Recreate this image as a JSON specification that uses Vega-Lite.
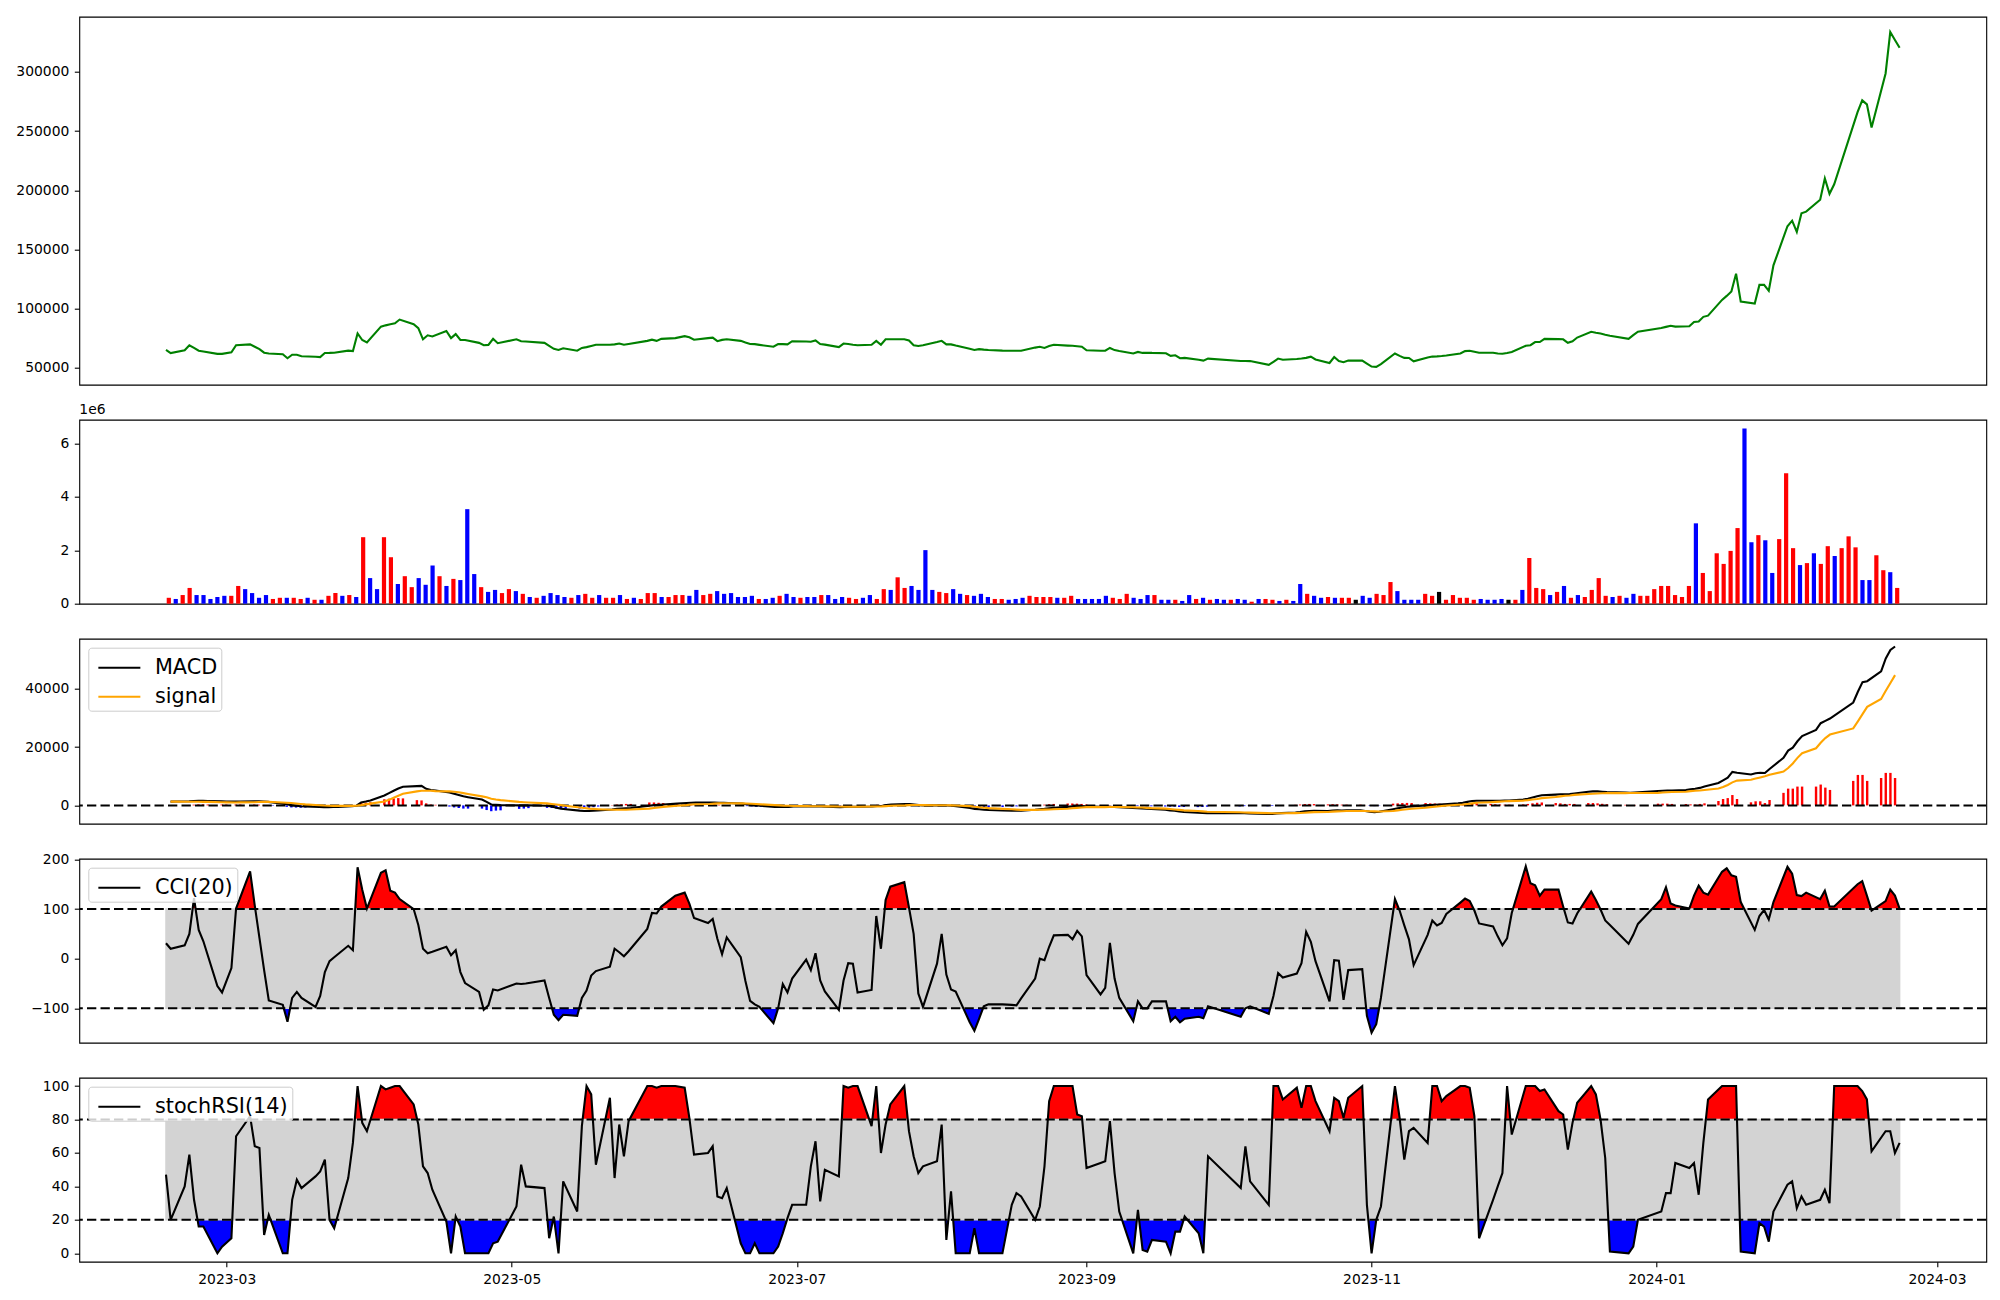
{
"$schema":"https://vega.github.io/schema/vega-lite/v6.json",
"padding":{"left":8.3,"top":15.7,"right":10,"bottom":10},
"config":{"font":"DejaVu Sans","view":{"stroke":"black","strokeWidth":1.1},
"axis":{"domain":false,"grid":false,"tickColor":"black","tickSize":5,"tickWidth":1.1,"labelFontSize":13.9,"labelColor":"black","labelPadding":5.5,"labelFont":"DejaVu Sans"},
"axisY":{"minExtent":70,"maxExtent":70},
"legend":{"orient":"top-left","offset":9,"labelFontSize":20.8,"labelFont":"DejaVu Sans","labelColor":"black","symbolSize":900,"symbolStrokeWidth":2.1,"fillColor":"rgba(255,255,255,0.8)","strokeColor":"#cccccc","padding":3.6,"cornerRadius":3,"rowPadding":2,"labelOffset":30}},
"datasets":{"p":[
{"d":"2023-02-16","c":65000,"v":221000,"dir":"up","m":1300,"s":1300,"h":0,"cci":31,"k":47},
{"d":"2023-02-17","c":62400,"v":177000,"dir":"down","m":1350,"s":1300,"h":50,"cci":20,"k":20},
{"d":"2023-02-20","c":64700,"v":324000,"dir":"up","m":1400,"s":1250,"h":150,"cci":27,"k":40},
{"d":"2023-02-21","c":69000,"v":590000,"dir":"up","m":1500,"s":1250,"h":250,"cci":50,"k":59},
{"d":"2023-02-22","c":66700,"v":324000,"dir":"down","m":1600,"s":1250,"h":350,"cci":122,"k":32},
{"d":"2023-02-23","c":64400,"v":324000,"dir":"down","m":1550,"s":1200,"h":350,"cci":58,"k":16},
{"d":"2023-02-24","c":63700,"v":177000,"dir":"down","m":1500,"s":1200,"h":300,"cci":35,"k":16},
{"d":"2023-02-27","c":61700,"v":251000,"dir":"down","m":1400,"s":1100,"h":300,"cci":-55,"k":0},
{"d":"2023-02-28","c":61700,"v":295000,"dir":"down","m":1350,"s":1050,"h":300,"cci":-68,"k":4},
{"d":"2023-03-02","c":63000,"v":295000,"dir":"up","m":1300,"s":1000,"h":300,"cci":-19,"k":9},
{"d":"2023-03-03","c":69000,"v":664000,"dir":"up","m":1350,"s":1050,"h":300,"cci":101,"k":70},
{"d":"2023-03-06","c":69700,"v":546000,"dir":"down","m":1400,"s":1100,"h":300,"cci":176,"k":82},
{"d":"2023-03-07","c":67700,"v":398000,"dir":"down","m":1400,"s":1150,"h":250,"cci":107,"k":64},
{"d":"2023-03-08","c":65700,"v":221000,"dir":"down","m":1350,"s":1200,"h":150,"cci":42,"k":63},
{"d":"2023-03-09","c":62700,"v":324000,"dir":"down","m":1200,"s":1200,"h":0,"cci":-23,"k":11},
{"d":"2023-03-10","c":62000,"v":177000,"dir":"up","m":1000,"s":1150,"h":-150,"cci":-84,"k":23},
{"d":"2023-03-13","c":61400,"v":221000,"dir":"up","m":400,"s":900,"h":-500,"cci":-93,"k":0},
{"d":"2023-03-14","c":58000,"v":221000,"dir":"down","m":100,"s":800,"h":-700,"cci":-127,"k":0},
{"d":"2023-03-15","c":61000,"v":221000,"dir":"up","m":-100,"s":650,"h":-750,"cci":-79,"k":32},
{"d":"2023-03-16","c":61000,"v":177000,"dir":"up","m":-300,"s":500,"h":-800,"cci":-67,"k":44},
{"d":"2023-03-17","c":59700,"v":221000,"dir":"down","m":-400,"s":350,"h":-750,"cci":-79,"k":39},
{"d":"2023-03-20","c":59300,"v":147000,"dir":"up","m":-550,"s":50,"h":-600,"cci":-97,"k":46},
{"d":"2023-03-21","c":59000,"v":147000,"dir":"down","m":-600,"s":-50,"h":-550,"cci":-75,"k":49},
{"d":"2023-03-22","c":62400,"v":295000,"dir":"up","m":-600,"s":-100,"h":-500,"cci":-27,"k":56},
{"d":"2023-03-23","c":62500,"v":398000,"dir":"up","m":-550,"s":-150,"h":-400,"cci":-5,"k":20},
{"d":"2023-03-24","c":62700,"v":295000,"dir":"down","m":-500,"s":-150,"h":-350,"cci":3,"k":15},
{"d":"2023-03-27","c":64400,"v":324000,"dir":"up","m":-300,"s":-150,"h":-150,"cci":26,"k":45},
{"d":"2023-03-28","c":64000,"v":251000,"dir":"down","m":-100,"s":-100,"h":0,"cci":17,"k":66},
{"d":"2023-03-29","c":79000,"v":2490000,"dir":"up","m":1000,"s":100,"h":900,"cci":184,"k":100},
{"d":"2023-03-30","c":73400,"v":959000,"dir":"down","m":1300,"s":350,"h":950,"cci":139,"k":78},
{"d":"2023-03-31","c":71400,"v":546000,"dir":"down","m":1700,"s":600,"h":1100,"cci":101,"k":73},
{"d":"2023-04-03","c":84700,"v":2490000,"dir":"up","m":3400,"s":1300,"h":2100,"cci":173,"k":100},
{"d":"2023-04-04","c":85800,"v":1740000,"dir":"up","m":4200,"s":1900,"h":2300,"cci":178,"k":98},
{"d":"2023-04-05","c":86700,"v":737000,"dir":"down","m":5000,"s":2600,"h":2400,"cci":137,"k":99},
{"d":"2023-04-06","c":87500,"v":1030000,"dir":"up","m":5800,"s":3300,"h":2500,"cci":133,"k":100},
{"d":"2023-04-07","c":90700,"v":620000,"dir":"up","m":6400,"s":4000,"h":2400,"cci":120,"k":100},
{"d":"2023-04-10","c":86700,"v":959000,"dir":"down","m":6600,"s":4800,"h":1800,"cci":100,"k":89},
{"d":"2023-04-11","c":83400,"v":708000,"dir":"down","m":6700,"s":5000,"h":1700,"cci":68,"k":77},
{"d":"2023-04-12","c":74000,"v":1430000,"dir":"down","m":5700,"s":5000,"h":700,"cci":20,"k":52},
{"d":"2023-04-13","c":77400,"v":1030000,"dir":"up","m":5300,"s":5000,"h":300,"cci":11,"k":48},
{"d":"2023-04-14","c":76400,"v":664000,"dir":"down","m":5100,"s":4900,"h":200,"cci":14,"k":38},
{"d":"2023-04-17","c":81000,"v":929000,"dir":"up","m":4400,"s":4800,"h":-400,"cci":24,"k":19},
{"d":"2023-04-18","c":75000,"v":885000,"dir":"down","m":4000,"s":4700,"h":-700,"cci":7,"k":0},
{"d":"2023-04-19","c":78400,"v":3540000,"dir":"down","m":3600,"s":4500,"h":-900,"cci":17,"k":22},
{"d":"2023-04-20","c":73400,"v":1110000,"dir":"down","m":3100,"s":4200,"h":-1100,"cci":-27,"k":16},
{"d":"2023-04-21","c":73400,"v":620000,"dir":"up","m":2800,"s":3900,"h":-1100,"cci":-49,"k":0},
{"d":"2023-04-24","c":71000,"v":442000,"dir":"down","m":2000,"s":3100,"h":-1100,"cci":-67,"k":0},
{"d":"2023-04-25","c":69000,"v":516000,"dir":"down","m":1200,"s":2800,"h":-1600,"cci":-103,"k":0},
{"d":"2023-04-26","c":69300,"v":398000,"dir":"up","m":300,"s":2300,"h":-2000,"cci":-94,"k":0},
{"d":"2023-04-27","c":74400,"v":546000,"dir":"up","m":200,"s":2000,"h":-1800,"cci":-62,"k":6},
{"d":"2023-04-28","c":70700,"v":472000,"dir":"down","m":100,"s":1800,"h":-1700,"cci":-64,"k":7},
{"d":"2023-05-02","c":74000,"v":369000,"dir":"up","m":0,"s":1200,"h":-1200,"cci":-50,"k":28},
{"d":"2023-05-03","c":72400,"v":251000,"dir":"down","m":0,"s":1100,"h":-1100,"cci":-51,"k":53},
{"d":"2023-05-04","c":72200,"v":221000,"dir":"up","m":50,"s":1000,"h":-950,"cci":-50,"k":40},
{"d":"2023-05-08","c":71000,"v":295000,"dir":"down","m":-150,"s":700,"h":-850,"cci":-44,"k":39},
{"d":"2023-05-09","c":68500,"v":398000,"dir":"down","m":-400,"s":500,"h":-900,"cci":-79,"k":9},
{"d":"2023-05-10","c":66000,"v":324000,"dir":"down","m":-800,"s":300,"h":-1100,"cci":-113,"k":22},
{"d":"2023-05-11","c":65000,"v":251000,"dir":"down","m":-1100,"s":100,"h":-1200,"cci":-124,"k":0},
{"d":"2023-05-12","c":66400,"v":221000,"dir":"up","m":-1300,"s":-100,"h":-1200,"cci":-113,"k":43},
{"d":"2023-05-15","c":64400,"v":324000,"dir":"down","m":-1800,"s":-700,"h":-1100,"cci":-115,"k":25},
{"d":"2023-05-16","c":66700,"v":369000,"dir":"up","m":-1900,"s":-900,"h":-1000,"cci":-79,"k":76},
{"d":"2023-05-17","c":67400,"v":221000,"dir":"up","m":-1900,"s":-1100,"h":-800,"cci":-64,"k":100},
{"d":"2023-05-18","c":68400,"v":324000,"dir":"down","m":-1800,"s":-1200,"h":-600,"cci":-34,"k":95},
{"d":"2023-05-19","c":69400,"v":221000,"dir":"up","m":-1700,"s":-1300,"h":-400,"cci":-25,"k":53},
{"d":"2023-05-22","c":69400,"v":221000,"dir":"up","m":-1400,"s":-1500,"h":100,"cci":-16,"k":93},
{"d":"2023-05-23","c":69700,"v":324000,"dir":"down","m":-1200,"s":-1500,"h":300,"cci":20,"k":45},
{"d":"2023-05-24","c":70400,"v":177000,"dir":"up","m":-1100,"s":-1500,"h":400,"cci":13,"k":77},
{"d":"2023-05-25","c":69400,"v":221000,"dir":"down","m":-1000,"s":-1500,"h":500,"cci":5,"k":58},
{"d":"2023-05-26","c":70000,"v":177000,"dir":"up","m":-900,"s":-1400,"h":500,"cci":15,"k":79},
{"d":"2023-05-30","c":72700,"v":398000,"dir":"up","m":-100,"s":-1100,"h":1000,"cci":60,"k":100},
{"d":"2023-05-31","c":73700,"v":398000,"dir":"up","m":100,"s":-900,"h":1000,"cci":92,"k":100},
{"d":"2023-06-01","c":72700,"v":251000,"dir":"down","m":200,"s":-700,"h":900,"cci":91,"k":99},
{"d":"2023-06-02","c":74400,"v":251000,"dir":"up","m":300,"s":-500,"h":800,"cci":105,"k":100},
{"d":"2023-06-05","c":75000,"v":324000,"dir":"up","m":600,"s":-100,"h":700,"cci":127,"k":100},
{"d":"2023-06-07","c":76700,"v":324000,"dir":"up","m":800,"s":100,"h":700,"cci":133,"k":99},
{"d":"2023-06-08","c":75700,"v":295000,"dir":"down","m":900,"s":300,"h":600,"cci":111,"k":81},
{"d":"2023-06-09","c":73700,"v":516000,"dir":"down","m":950,"s":400,"h":550,"cci":82,"k":59},
{"d":"2023-06-12","c":75000,"v":324000,"dir":"up","m":1000,"s":500,"h":500,"cci":72,"k":60},
{"d":"2023-06-13","c":75400,"v":369000,"dir":"up","m":1000,"s":600,"h":400,"cci":80,"k":64},
{"d":"2023-06-14","c":72400,"v":472000,"dir":"down","m":900,"s":700,"h":200,"cci":40,"k":34},
{"d":"2023-06-15","c":73500,"v":369000,"dir":"down","m":850,"s":750,"h":100,"cci":9,"k":33},
{"d":"2023-06-16","c":74000,"v":398000,"dir":"down","m":800,"s":750,"h":50,"cci":43,"k":39},
{"d":"2023-06-19","c":72700,"v":251000,"dir":"down","m":600,"s":700,"h":-100,"cci":3,"k":6},
{"d":"2023-06-20","c":71300,"v":251000,"dir":"down","m":400,"s":650,"h":-250,"cci":-45,"k":0},
{"d":"2023-06-21","c":70000,"v":295000,"dir":"down","m":200,"s":550,"h":-350,"cci":-85,"k":0},
{"d":"2023-06-22","c":69900,"v":177000,"dir":"up","m":0,"s":450,"h":-450,"cci":-92,"k":6},
{"d":"2023-06-23","c":69300,"v":177000,"dir":"down","m":-150,"s":350,"h":-500,"cci":-97,"k":0},
{"d":"2023-06-26","c":67700,"v":221000,"dir":"down","m":-500,"s":100,"h":-600,"cci":-130,"k":0},
{"d":"2023-06-27","c":70000,"v":295000,"dir":"up","m":-550,"s":0,"h":-550,"cci":-100,"k":4},
{"d":"2023-06-28","c":69900,"v":369000,"dir":"down","m":-550,"s":-100,"h":-450,"cci":-51,"k":12},
{"d":"2023-06-29","c":69700,"v":251000,"dir":"down","m":-550,"s":-150,"h":-400,"cci":-68,"k":21},
{"d":"2023-06-30","c":72400,"v":221000,"dir":"up","m":-400,"s":-200,"h":-200,"cci":-40,"k":29},
{"d":"2023-07-03","c":72200,"v":251000,"dir":"down","m":-350,"s":-250,"h":-100,"cci":-2,"k":29},
{"d":"2023-07-04","c":72000,"v":251000,"dir":"down","m":-350,"s":-300,"h":-50,"cci":-23,"k":52},
{"d":"2023-07-05","c":73000,"v":324000,"dir":"up","m":-300,"s":-300,"h":0,"cci":11,"k":67},
{"d":"2023-07-06","c":70000,"v":324000,"dir":"down","m":-400,"s":-300,"h":-100,"cci":-44,"k":31},
{"d":"2023-07-07","c":69500,"v":177000,"dir":"down","m":-450,"s":-350,"h":-100,"cci":-66,"k":50},
{"d":"2023-07-10","c":67400,"v":251000,"dir":"down","m":-600,"s":-400,"h":-200,"cci":-103,"k":46},
{"d":"2023-07-11","c":70400,"v":221000,"dir":"up","m":-500,"s":-450,"h":-50,"cci":-44,"k":100},
{"d":"2023-07-12","c":70000,"v":177000,"dir":"up","m":-450,"s":-450,"h":0,"cci":-9,"k":99},
{"d":"2023-07-13","c":69400,"v":221000,"dir":"down","m":-450,"s":-450,"h":0,"cci":-10,"k":100},
{"d":"2023-07-14","c":69000,"v":324000,"dir":"down","m":-450,"s":-450,"h":0,"cci":-68,"k":100},
{"d":"2023-07-17","c":69400,"v":177000,"dir":"up","m":-400,"s":-400,"h":0,"cci":-63,"k":76},
{"d":"2023-07-18","c":72700,"v":546000,"dir":"up","m":-200,"s":-400,"h":200,"cci":86,"k":100},
{"d":"2023-07-19","c":69400,"v":516000,"dir":"down","m":-200,"s":-350,"h":150,"cci":20,"k":60},
{"d":"2023-07-20","c":74000,"v":988000,"dir":"up","m":100,"s":-250,"h":350,"cci":118,"k":77},
{"d":"2023-07-21","c":74000,"v":590000,"dir":"up","m":300,"s":-150,"h":450,"cci":145,"k":89},
{"d":"2023-07-24","c":74000,"v":664000,"dir":"down","m":500,"s":0,"h":500,"cci":154,"k":100},
{"d":"2023-07-25","c":73000,"v":516000,"dir":"down","m":500,"s":100,"h":400,"cci":103,"k":73},
{"d":"2023-07-26","c":69000,"v":2006000,"dir":"down","m":300,"s":150,"h":150,"cci":50,"k":58},
{"d":"2023-07-27","c":68400,"v":516000,"dir":"down","m":100,"s":150,"h":-50,"cci":-70,"k":48},
{"d":"2023-07-28","c":69000,"v":442000,"dir":"up","m":0,"s":100,"h":-100,"cci":-97,"k":52},
{"d":"2023-07-31","c":71700,"v":398000,"dir":"up","m":0,"s":50,"h":-50,"cci":-10,"k":55},
{"d":"2023-08-01","c":72700,"v":546000,"dir":"down","m":50,"s":50,"h":0,"cci":50,"k":77},
{"d":"2023-08-02","c":69700,"v":369000,"dir":"down","m":-50,"s":50,"h":-100,"cci":-32,"k":8},
{"d":"2023-08-03","c":69700,"v":324000,"dir":"up","m":-150,"s":0,"h":-150,"cci":-62,"k":37},
{"d":"2023-08-04","c":68700,"v":295000,"dir":"down","m":-300,"s":-50,"h":-250,"cci":-66,"k":0},
{"d":"2023-08-07","c":66000,"v":369000,"dir":"down","m":-900,"s":-250,"h":-650,"cci":-128,"k":0},
{"d":"2023-08-08","c":65000,"v":251000,"dir":"down","m":-1200,"s":-450,"h":-750,"cci":-145,"k":15},
{"d":"2023-08-09","c":65700,"v":177000,"dir":"up","m":-1350,"s":-650,"h":-700,"cci":-121,"k":0},
{"d":"2023-08-10","c":65300,"v":177000,"dir":"up","m":-1500,"s":-800,"h":-700,"cci":-96,"k":0},
{"d":"2023-08-11","c":65000,"v":147000,"dir":"down","m":-1600,"s":-950,"h":-650,"cci":-92,"k":0},
{"d":"2023-08-14","c":64400,"v":177000,"dir":"down","m":-1750,"s":-1200,"h":-550,"cci":-92,"k":0},
{"d":"2023-08-16","c":64350,"v":221000,"dir":"down","m":-1800,"s":-1350,"h":-450,"cci":-93,"k":29},
{"d":"2023-08-17","c":64350,"v":295000,"dir":"up","m":-1800,"s":-1450,"h":-350,"cci":-94,"k":36},
{"d":"2023-08-18","c":64350,"v":251000,"dir":"up","m":-1800,"s":-1550,"h":-250,"cci":-80,"k":34},
{"d":"2023-08-21","c":67000,"v":251000,"dir":"up","m":-1500,"s":-1550,"h":50,"cci":-40,"k":20},
{"d":"2023-08-22","c":67700,"v":251000,"dir":"up","m":-1300,"s":-1500,"h":200,"cci":0,"k":28},
{"d":"2023-08-23","c":66700,"v":221000,"dir":"down","m":-1200,"s":-1450,"h":250,"cci":-3,"k":52},
{"d":"2023-08-24","c":68300,"v":221000,"dir":"up","m":-1000,"s":-1400,"h":400,"cci":24,"k":91},
{"d":"2023-08-25","c":69400,"v":295000,"dir":"up","m":-800,"s":-1300,"h":500,"cci":47,"k":100},
{"d":"2023-08-28","c":68700,"v":177000,"dir":"down","m":-500,"s":-1150,"h":650,"cci":48,"k":100},
{"d":"2023-08-29","c":68500,"v":177000,"dir":"down","m":-350,"s":-1000,"h":650,"cci":39,"k":100},
{"d":"2023-08-30","c":68200,"v":177000,"dir":"down","m":-250,"s":-850,"h":600,"cci":56,"k":83},
{"d":"2023-08-31","c":67800,"v":177000,"dir":"down","m":-200,"s":-700,"h":500,"cci":45,"k":82},
{"d":"2023-09-01","c":64700,"v":295000,"dir":"down","m":-300,"s":-600,"h":300,"cci":-33,"k":51},
{"d":"2023-09-04","c":64350,"v":221000,"dir":"up","m":-450,"s":-600,"h":150,"cci":-72,"k":54},
{"d":"2023-09-05","c":64350,"v":177000,"dir":"up","m":-500,"s":-600,"h":100,"cci":-59,"k":55},
{"d":"2023-09-06","c":66700,"v":369000,"dir":"up","m":-450,"s":-550,"h":100,"cci":32,"k":79},
{"d":"2023-09-07","c":64900,"v":221000,"dir":"down","m":-550,"s":-550,"h":0,"cci":-40,"k":48},
{"d":"2023-09-08","c":64100,"v":177000,"dir":"down","m":-650,"s":-550,"h":-100,"cci":-79,"k":25},
{"d":"2023-09-11","c":62000,"v":324000,"dir":"down","m":-900,"s":-650,"h":-250,"cci":-126,"k":0},
{"d":"2023-09-12","c":63350,"v":324000,"dir":"up","m":-950,"s":-700,"h":-250,"cci":-86,"k":26},
{"d":"2023-09-13","c":62500,"v":147000,"dir":"down","m":-1050,"s":-750,"h":-300,"cci":-100,"k":2},
{"d":"2023-09-14","c":62700,"v":147000,"dir":"down","m":-1150,"s":-850,"h":-300,"cci":-100,"k":1},
{"d":"2023-09-15","c":62500,"v":147000,"dir":"up","m":-1250,"s":-950,"h":-300,"cci":-86,"k":8},
{"d":"2023-09-18","c":62200,"v":103000,"dir":"down","m":-1500,"s":-1100,"h":-400,"cci":-86,"k":7},
{"d":"2023-09-19","c":60000,"v":324000,"dir":"down","m":-1700,"s":-1250,"h":-450,"cci":-126,"k":0},
{"d":"2023-09-20","c":60500,"v":177000,"dir":"up","m":-1850,"s":-1400,"h":-450,"cci":-117,"k":13},
{"d":"2023-09-21","c":58000,"v":221000,"dir":"down","m":-2100,"s":-1550,"h":-550,"cci":-128,"k":13},
{"d":"2023-09-22","c":58300,"v":147000,"dir":"up","m":-2250,"s":-1700,"h":-550,"cci":-121,"k":22},
{"d":"2023-09-25","c":56700,"v":177000,"dir":"down","m":-2500,"s":-1900,"h":-600,"cci":-117,"k":12},
{"d":"2023-09-26","c":56000,"v":147000,"dir":"down","m":-2600,"s":-2050,"h":-550,"cci":-120,"k":0},
{"d":"2023-09-27","c":57700,"v":147000,"dir":"up","m":-2650,"s":-2200,"h":-450,"cci":-96,"k":58},
{"d":"2023-10-04","c":55700,"v":177000,"dir":"down","m":-2700,"s":-2350,"h":-350,"cci":-117,"k":39},
{"d":"2023-10-05","c":55700,"v":147000,"dir":"down","m":-2700,"s":-2450,"h":-250,"cci":-100,"k":64},
{"d":"2023-10-06","c":55600,"v":74000,"dir":"up","m":-2750,"s":-2500,"h":-250,"cci":-96,"k":43},
{"d":"2023-10-10","c":52400,"v":177000,"dir":"down","m":-2950,"s":-2650,"h":-300,"cci":-111,"k":29},
{"d":"2023-10-11","c":55000,"v":177000,"dir":"up","m":-2900,"s":-2700,"h":-200,"cci":-75,"k":100},
{"d":"2023-10-12","c":57700,"v":147000,"dir":"up","m":-2750,"s":-2700,"h":-50,"cci":-29,"k":100},
{"d":"2023-10-13","c":56700,"v":103000,"dir":"down","m":-2650,"s":-2700,"h":50,"cci":-38,"k":92},
{"d":"2023-10-16","c":57400,"v":147000,"dir":"up","m":-2450,"s":-2650,"h":200,"cci":-30,"k":99},
{"d":"2023-10-17","c":57800,"v":103000,"dir":"down","m":-2300,"s":-2600,"h":300,"cci":-9,"k":87},
{"d":"2023-10-18","c":58300,"v":737000,"dir":"down","m":-2050,"s":-2500,"h":450,"cci":54,"k":100},
{"d":"2023-10-19","c":59300,"v":369000,"dir":"up","m":-1900,"s":-2400,"h":500,"cci":34,"k":100},
{"d":"2023-10-20","c":57000,"v":295000,"dir":"down","m":-1850,"s":-2300,"h":450,"cci":-5,"k":91},
{"d":"2023-10-23","c":54000,"v":221000,"dir":"down","m":-1900,"s":-2250,"h":350,"cci":-86,"k":73},
{"d":"2023-10-24","c":59000,"v":251000,"dir":"up","m":-1750,"s":-2150,"h":400,"cci":-3,"k":93},
{"d":"2023-10-25","c":55700,"v":221000,"dir":"down","m":-1700,"s":-2050,"h":350,"cci":-4,"k":91},
{"d":"2023-10-26","c":54700,"v":221000,"dir":"up","m":-1750,"s":-2000,"h":250,"cci":-83,"k":81},
{"d":"2023-10-27","c":56000,"v":221000,"dir":"up","m":-1700,"s":-1950,"h":250,"cci":-23,"k":93},
{"d":"2023-10-30","c":56000,"v":147000,"dir":"flat","m":-1700,"s":-1950,"h":250,"cci":-21,"k":100},
{"d":"2023-10-31","c":53500,"v":295000,"dir":"down","m":-1900,"s":-1950,"h":50,"cci":-115,"k":29},
{"d":"2023-11-01","c":51000,"v":221000,"dir":"down","m":-2200,"s":-2000,"h":-200,"cci":-149,"k":0},
{"d":"2023-11-02","c":50700,"v":369000,"dir":"up","m":-2300,"s":-2050,"h":-250,"cci":-132,"k":20},
{"d":"2023-11-03","c":53000,"v":324000,"dir":"up","m":-2200,"s":-2100,"h":-100,"cci":-79,"k":28},
{"d":"2023-11-06","c":62000,"v":811000,"dir":"up","m":-1300,"s":-1900,"h":600,"cci":120,"k":100},
{"d":"2023-11-07","c":60000,"v":472000,"dir":"down","m":-1000,"s":-1700,"h":700,"cci":97,"k":81},
{"d":"2023-11-08","c":58300,"v":147000,"dir":"down","m":-700,"s":-1500,"h":800,"cci":67,"k":56},
{"d":"2023-11-09","c":58200,"v":147000,"dir":"down","m":-450,"s":-1300,"h":850,"cci":39,"k":73},
{"d":"2023-11-10","c":55400,"v":147000,"dir":"down","m":-350,"s":-1150,"h":800,"cci":-13,"k":75},
{"d":"2023-11-13","c":58700,"v":369000,"dir":"up","m":0,"s":-800,"h":800,"cci":48,"k":66},
{"d":"2023-11-14","c":59400,"v":295000,"dir":"up","m":100,"s":-600,"h":700,"cci":77,"k":100},
{"d":"2023-11-15","c":59600,"v":442000,"dir":"flat","m":200,"s":-450,"h":650,"cci":67,"k":100},
{"d":"2023-11-16","c":59900,"v":147000,"dir":"up","m":300,"s":-300,"h":600,"cci":72,"k":91},
{"d":"2023-11-17","c":60300,"v":324000,"dir":"up","m":400,"s":-150,"h":550,"cci":90,"k":94},
{"d":"2023-11-20","c":62000,"v":221000,"dir":"up","m":700,"s":200,"h":500,"cci":113,"k":100},
{"d":"2023-11-21","c":64000,"v":221000,"dir":"up","m":900,"s":300,"h":600,"cci":121,"k":100},
{"d":"2023-11-22","c":64350,"v":147000,"dir":"up","m":1200,"s":500,"h":700,"cci":116,"k":99},
{"d":"2023-11-23","c":63500,"v":177000,"dir":"down","m":1500,"s":700,"h":800,"cci":97,"k":82},
{"d":"2023-11-24","c":62700,"v":147000,"dir":"down","m":1600,"s":900,"h":700,"cci":71,"k":9},
{"d":"2023-11-27","c":62700,"v":147000,"dir":"down","m":1600,"s":1100,"h":500,"cci":65,"k":32},
{"d":"2023-11-28","c":62000,"v":177000,"dir":"down","m":1600,"s":1200,"h":400,"cci":45,"k":40},
{"d":"2023-11-29","c":61800,"v":147000,"dir":"flat","m":1600,"s":1300,"h":300,"cci":27,"k":48},
{"d":"2023-11-30","c":62500,"v":147000,"dir":"up","m":1650,"s":1400,"h":250,"cci":41,"k":100},
{"d":"2023-12-01","c":63350,"v":516000,"dir":"down","m":1700,"s":1450,"h":250,"cci":92,"k":71},
{"d":"2023-12-04","c":68600,"v":1711000,"dir":"up","m":2000,"s":1650,"h":350,"cci":186,"k":100},
{"d":"2023-12-05","c":69000,"v":590000,"dir":"up","m":2300,"s":1800,"h":500,"cci":152,"k":100},
{"d":"2023-12-06","c":71700,"v":546000,"dir":"up","m":2700,"s":2000,"h":700,"cci":148,"k":100},
{"d":"2023-12-07","c":71700,"v":324000,"dir":"down","m":3100,"s":2200,"h":900,"cci":127,"k":97},
{"d":"2023-12-08","c":74400,"v":442000,"dir":"up","m":3500,"s":2500,"h":1000,"cci":139,"k":98},
{"d":"2023-12-11","c":74200,"v":664000,"dir":"down","m":3700,"s":2900,"h":800,"cci":139,"k":85},
{"d":"2023-12-12","c":74000,"v":221000,"dir":"up","m":3800,"s":3100,"h":700,"cci":105,"k":83},
{"d":"2023-12-13","c":71000,"v":324000,"dir":"down","m":3800,"s":3300,"h":500,"cci":73,"k":62},
{"d":"2023-12-14","c":72300,"v":251000,"dir":"up","m":3900,"s":3400,"h":500,"cci":71,"k":78},
{"d":"2023-12-15","c":75500,"v":516000,"dir":"up","m":4100,"s":3600,"h":500,"cci":91,"k":90},
{"d":"2023-12-18","c":80400,"v":959000,"dir":"up","m":4700,"s":3900,"h":800,"cci":135,"k":100},
{"d":"2023-12-19","c":79600,"v":295000,"dir":"up","m":4800,"s":4000,"h":800,"cci":118,"k":95},
{"d":"2023-12-20","c":78900,"v":251000,"dir":"down","m":4800,"s":4100,"h":700,"cci":99,"k":80},
{"d":"2023-12-21","c":77900,"v":295000,"dir":"up","m":4700,"s":4150,"h":550,"cci":77,"k":57},
{"d":"2023-12-22","c":77000,"v":221000,"dir":"down","m":4600,"s":4200,"h":400,"cci":68,"k":1},
{"d":"2023-12-26","c":74400,"v":369000,"dir":"down","m":4400,"s":4200,"h":200,"cci":30,"k":0},
{"d":"2023-12-27","c":77500,"v":295000,"dir":"up","m":4300,"s":4250,"h":50,"cci":48,"k":4},
{"d":"2023-12-28","c":80400,"v":295000,"dir":"up","m":4400,"s":4250,"h":150,"cci":70,"k":20},
{"d":"2024-01-02","c":83500,"v":546000,"dir":"up","m":4900,"s":4300,"h":600,"cci":120,"k":25},
{"d":"2024-01-03","c":84500,"v":664000,"dir":"up","m":5000,"s":4400,"h":600,"cci":144,"k":36},
{"d":"2024-01-04","c":85400,"v":664000,"dir":"up","m":5100,"s":4500,"h":600,"cci":111,"k":36},
{"d":"2024-01-05","c":84700,"v":324000,"dir":"up","m":5100,"s":4600,"h":500,"cci":107,"k":54},
{"d":"2024-01-08","c":85000,"v":251000,"dir":"up","m":5300,"s":4700,"h":450,"cci":101,"k":51},
{"d":"2024-01-09","c":88700,"v":664000,"dir":"up","m":5500,"s":4900,"h":350,"cci":127,"k":54},
{"d":"2024-01-10","c":89000,"v":3009000,"dir":"down","m":5700,"s":5000,"h":300,"cci":147,"k":35},
{"d":"2024-01-11","c":93000,"v":1151000,"dir":"up","m":6000,"s":5100,"h":500,"cci":133,"k":66},
{"d":"2024-01-12","c":94000,"v":472000,"dir":"up","m":6500,"s":5300,"h":700,"cci":129,"k":92},
{"d":"2024-01-15","c":107300,"v":1888000,"dir":"up","m":7700,"s":5800,"h":1500,"cci":175,"k":100},
{"d":"2024-01-16","c":110700,"v":1490000,"dir":"up","m":8600,"s":6300,"h":2200,"cci":182,"k":100},
{"d":"2024-01-17","c":114500,"v":1977000,"dir":"up","m":9500,"s":7000,"h":2500,"cci":168,"k":100},
{"d":"2024-01-18","c":129500,"v":2832000,"dir":"up","m":11500,"s":7900,"h":3550,"cci":165,"k":100},
{"d":"2024-01-19","c":106000,"v":6564000,"dir":"down","m":11200,"s":8500,"h":2200,"cci":114,"k":1},
{"d":"2024-01-22","c":104200,"v":2301000,"dir":"down","m":10600,"s":8800,"h":1050,"cci":58,"k":0},
{"d":"2024-01-23","c":120000,"v":2567000,"dir":"up","m":11000,"s":9200,"h":1400,"cci":86,"k":18},
{"d":"2024-01-24","c":120100,"v":2375000,"dir":"down","m":11200,"s":9600,"h":1400,"cci":98,"k":16},
{"d":"2024-01-25","c":115000,"v":1151000,"dir":"down","m":11100,"s":10000,"h":800,"cci":79,"k":7},
{"d":"2024-01-26","c":136500,"v":2419000,"dir":"up","m":12500,"s":10500,"h":1850,"cci":114,"k":25},
{"d":"2024-01-29","c":169600,"v":4882000,"dir":"up","m":16300,"s":11600,"h":4300,"cci":185,"k":41},
{"d":"2024-01-30","c":174300,"v":2080000,"dir":"up","m":18800,"s":12800,"h":5750,"cci":171,"k":43},
{"d":"2024-01-31","c":164800,"v":1446000,"dir":"down","m":19800,"s":14400,"h":5750,"cci":128,"k":27},
{"d":"2024-02-01","c":180500,"v":1520000,"dir":"up","m":22000,"s":16300,"h":6450,"cci":126,"k":34},
{"d":"2024-02-02","c":181900,"v":1888000,"dir":"down","m":23800,"s":17900,"h":6450,"cci":133,"k":29},
{"d":"2024-02-05","c":192000,"v":1490000,"dir":"up","m":25900,"s":19600,"h":6450,"cci":120,"k":32},
{"d":"2024-02-06","c":210000,"v":2154000,"dir":"up","m":28200,"s":21500,"h":7150,"cci":137,"k":38},
{"d":"2024-02-07","c":197000,"v":1785000,"dir":"down","m":29000,"s":23100,"h":6100,"cci":105,"k":30},
{"d":"2024-02-08","c":205000,"v":2080000,"dir":"up","m":29800,"s":24300,"h":5300,"cci":105,"k":100},
{"d":"2024-02-13","c":266000,"v":2522000,"dir":"up","m":35300,"s":26400,"h":8400,"cci":150,"k":100},
{"d":"2024-02-14","c":276000,"v":2110000,"dir":"up","m":39000,"s":28800,"h":10450,"cci":156,"k":97},
{"d":"2024-02-15","c":272600,"v":885000,"dir":"down","m":42300,"s":31300,"h":10450,"cci":127,"k":92},
{"d":"2024-02-16","c":253000,"v":885000,"dir":"down","m":42600,"s":33800,"h":8400,"cci":97,"k":61},
{"d":"2024-02-19","c":298700,"v":1814000,"dir":"up","m":46000,"s":36500,"h":9400,"cci":116,"k":73},
{"d":"2024-02-20","c":333700,"v":1254000,"dir":"up","m":50400,"s":39300,"h":11150,"cci":139,"k":73},
{"d":"2024-02-21","c":327000,"v":1180000,"dir":"down","m":53300,"s":42000,"h":11150,"cci":127,"k":60},
{"d":"2024-02-22","c":320400,"v":590000,"dir":"up","m":54500,"s":44700,"h":9400,"cci":101,"k":66}
]},
"spacing":35,
"bounds":"flush",
"resolve":{"scale":{"color":"independent","x":"independent","y":"independent"},"legend":{"color":"independent"}},
"vconcat":[
{"width":1907,"height":368,"data":{"name":"p"},
 "mark":{"type":"line","color":"green","strokeWidth":2.1},
 "encoding":{
  "x":{"field":"d","type":"temporal","scale":{"type":"utc","domain":[{"year":2023,"month":1,"date":28,"hours":10,"minutes":48,"utc":true},{"year":2024,"month":3,"date":11,"hours":13,"minutes":12,"utc":true}]},"axis":null},
  "y":{"field":"c","type":"quantitative","scale":{"domain":[35640,346700],"nice":false,"zero":false},"axis":{"values":[50000,100000,150000,200000,250000,300000],"format":"d","title":null}}}},
{"width":1907,"height":184,"data":{"name":"p"},
 "title":{"text":"1e6","anchor":"start","frame":"group","fontSize":13.9,"fontWeight":"normal","font":"DejaVu Sans","color":"black","offset":3},
 "mark":{"type":"bar","size":4.2},
 "encoding":{
  "x":{"field":"d","type":"ordinal","timeUnit":"utcyearmonthdate","scale":{"type":"point","range":[89.5,1817.9],"padding":0},"axis":null},
  "y":{"field":"v","type":"quantitative","scale":{"domain":[0,6890000],"nice":false},"axis":{"values":[0,2000000,4000000,6000000],"labelExpr":"format(datum.value/1000000,'d')","title":null}},
  "color":{"field":"dir","type":"nominal","scale":{"domain":["up","down","flat"],"range":["red","blue","black"]},"legend":null}}},
{"width":1907,"height":185,"data":{"name":"p"},
 "encoding":{"x":{"field":"d","type":"temporal","scale":{"type":"utc","domain":[{"year":2023,"month":1,"date":28,"hours":10,"minutes":48,"utc":true},{"year":2024,"month":3,"date":11,"hours":13,"minutes":12,"utc":true}]},"axis":null}},
 "layer":[
  {"mark":{"type":"bar","size":2.4},
   "encoding":{"y":{"field":"h","type":"quantitative","scale":{"domain":[-6280,57190],"nice":false,"zero":false},"axis":{"values":[0,20000,40000],"format":"d","title":null}},
   "color":{"condition":{"test":"datum.h > 0","value":"red"},"value":"blue"}}},
  {"mark":{"type":"rule","color":"black","strokeWidth":2,"strokeDash":[9.3,4.2]},
   "data":{"values":[{"lvl":0}]},
   "encoding":{"x":null,"y":{"field":"lvl","type":"quantitative"}}},
  {"mark":{"type":"line","strokeWidth":2.1},
   "encoding":{"y":{"field":"m","type":"quantitative"},
   "color":{"datum":"MACD","type":"nominal","scale":{"domain":["MACD","signal"],"range":["black","orange"]},"legend":{"title":null,"symbolType":"M-0.67,0H2.13"}}}},
  {"mark":{"type":"line","strokeWidth":2.1},
   "encoding":{"y":{"field":"s","type":"quantitative"},
   "color":{"datum":"signal","type":"nominal"}}}
 ]},
{"width":1907,"height":184,"data":{"name":"p"},
 "resolve":{"scale":{"y":"independent"}},
 "layer":[
  {"mark":{"type":"area","color":"red"},
   "encoding":{"x":{"field":"d","type":"temporal","scale":{"type":"utc","domain":[{"year":2023,"month":1,"date":28,"hours":10,"minutes":48,"utc":true},{"year":2024,"month":3,"date":11,"hours":13,"minutes":12,"utc":true}]},"axis":null},
   "y":{"field":"cci","type":"quantitative","scale":{"domain":[-100,201.4],"range":[149.64,0],"clamp":true,"nice":false,"zero":false},"axis":null},"y2":{"datum":100}}},
  {"mark":{"type":"area","color":"blue"},
   "encoding":{"x":{"field":"d","type":"temporal"},
   "y":{"field":"cci","type":"quantitative","scale":{"domain":[-169.2,100],"range":[184,50.34],"clamp":true,"nice":false,"zero":false},"axis":null},"y2":{"datum":-100}}},
  {"mark":{"type":"area","color":"#d3d3d3","stroke":"#d3d3d3","strokeWidth":1.5},
   "encoding":{"x":{"field":"d","type":"temporal"},
   "y":{"datum":-100,"type":"quantitative","scale":{"domain":[-169.2,201.4],"nice":false,"zero":false},"axis":null},"y2":{"datum":100}}},
  {"mark":{"type":"rule","color":"black","strokeWidth":2,"strokeDash":[9.3,4.2]},
   "data":{"values":[{"lvl":-100},{"lvl":100}]},
   "encoding":{"y":{"field":"lvl","type":"quantitative","scale":{"domain":[-169.2,201.4],"nice":false,"zero":false},"axis":null}}},
  {"mark":{"type":"line","strokeWidth":2.1},
   "encoding":{"x":{"field":"d","type":"temporal"},
   "y":{"field":"cci","type":"quantitative","scale":{"domain":[-169.2,201.4],"nice":false,"zero":false},"axis":{"values":[-100,0,100,200],"format":"d","title":null}},
   "color":{"datum":"CCI(20)","type":"nominal","scale":{"domain":["CCI(20)"],"range":["black"]},"legend":{"title":null,"symbolType":"M-0.67,0H2.13"}}}}
 ]},
{"width":1907,"height":184,"data":{"name":"p"},
 "resolve":{"scale":{"y":"independent"}},
 "layer":[
  {"mark":{"type":"area","color":"red"},
   "encoding":{"x":{"field":"d","type":"temporal","scale":{"type":"utc","domain":[{"year":2023,"month":1,"date":28,"hours":10,"minutes":48,"utc":true},{"year":2024,"month":3,"date":11,"hours":13,"minutes":12,"utc":true}]},
     "axis":{"values":[{"year":2023,"month":3,"date":1,"utc":true},{"year":2023,"month":5,"date":1,"utc":true},{"year":2023,"month":7,"date":1,"utc":true},{"year":2023,"month":9,"date":1,"utc":true},{"year":2023,"month":11,"date":1,"utc":true},{"year":2024,"month":1,"date":1,"utc":true},{"year":2024,"month":3,"date":1,"utc":true}],"format":"%Y-%m","title":null,"labelFlush":false}},
   "y":{"field":"k","type":"quantitative","scale":{"domain":[20,105],"range":[142.18,0],"clamp":true,"nice":false,"zero":false},"axis":null},"y2":{"datum":80}}},
  {"mark":{"type":"area","color":"blue"},
   "encoding":{"x":{"field":"d","type":"temporal"},
   "y":{"field":"k","type":"quantitative","scale":{"domain":[-5,80],"range":[184,41.82],"clamp":true,"nice":false,"zero":false},"axis":null},"y2":{"datum":20}}},
  {"mark":{"type":"area","color":"#d3d3d3","stroke":"#d3d3d3","strokeWidth":1.5},
   "encoding":{"x":{"field":"d","type":"temporal"},
   "y":{"datum":20,"type":"quantitative","scale":{"domain":[-5,105],"nice":false,"zero":false},"axis":null},"y2":{"datum":80}}},
  {"mark":{"type":"rule","color":"black","strokeWidth":2,"strokeDash":[9.3,4.2]},
   "data":{"values":[{"lvl":20},{"lvl":80}]},
   "encoding":{"y":{"field":"lvl","type":"quantitative","scale":{"domain":[-5,105],"nice":false,"zero":false},"axis":null}}},
  {"mark":{"type":"line","strokeWidth":2.1},
   "encoding":{"x":{"field":"d","type":"temporal"},
   "y":{"field":"k","type":"quantitative","scale":{"domain":[-5,105],"nice":false,"zero":false},"axis":{"values":[0,20,40,60,80,100],"format":"d","title":null}},
   "color":{"datum":"stochRSI(14)","type":"nominal","scale":{"domain":["stochRSI(14)"],"range":["black"]},"legend":{"title":null,"symbolType":"M-0.67,0H2.13"}}}}
 ]}
]
}
